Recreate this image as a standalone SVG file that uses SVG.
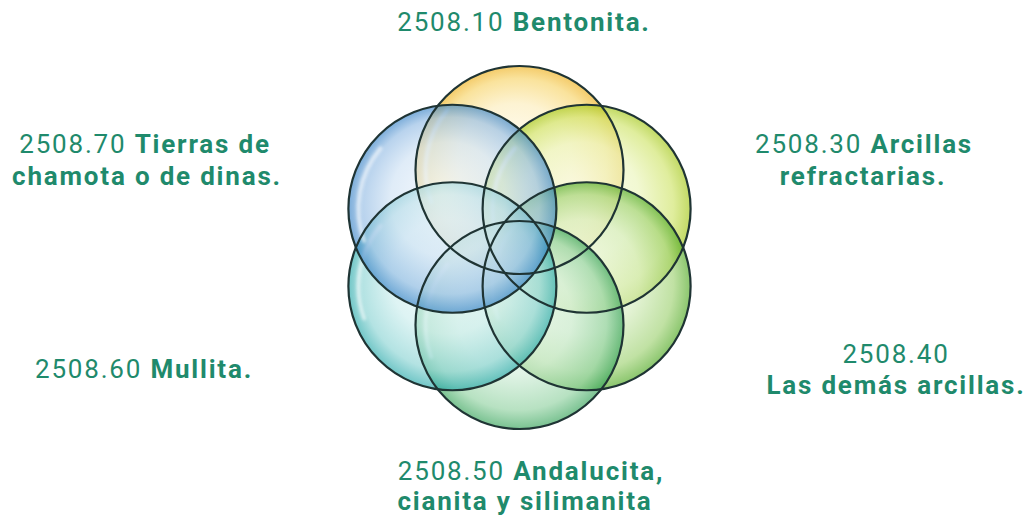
<svg xmlns="http://www.w3.org/2000/svg" xmlns:xlink="http://www.w3.org/1999/xlink" width="1027" height="516" viewBox="0 0 1027 516">
<style>
.lbl{font-family:Roboto,"Liberation Sans",sans-serif;font-size:26px;fill:#1f8a6c;letter-spacing:1.8px;text-anchor:middle}
.b{font-weight:bold}
.fill{fill-opacity:0.66;stroke:none}
.ring{fill:none;stroke:#1f3434;stroke-width:2.2}
.hl{fill:none;stroke:#ffffff;stroke-width:4;stroke-linecap:round;opacity:0.6;filter:url(#blur)}
</style>
<defs>
<filter id="blur" x="-20%" y="-20%" width="140%" height="140%"><feGaussianBlur stdDeviation="1.5"/></filter>
<radialGradient id="gY" cx="0.5" cy="0.5" r="0.5" fx="0.45" fy="0.4"><stop offset="0" stop-color="#fffcee"/><stop offset="0.55" stop-color="#fcedbb"/><stop offset="0.85" stop-color="#f7d469"/><stop offset="1" stop-color="#eeb01c"/></radialGradient>
<radialGradient id="gL" cx="0.5" cy="0.5" r="0.5" fx="0.45" fy="0.4"><stop offset="0" stop-color="#f9fce8"/><stop offset="0.55" stop-color="#ebf5bb"/><stop offset="0.85" stop-color="#cfe46a"/><stop offset="1" stop-color="#a2c615"/></radialGradient>
<radialGradient id="gG" cx="0.5" cy="0.5" r="0.5" fx="0.45" fy="0.4"><stop offset="0" stop-color="#f3faea"/><stop offset="0.55" stop-color="#d6edc0"/><stop offset="0.85" stop-color="#a0d274"/><stop offset="1" stop-color="#4ea822"/></radialGradient>
<radialGradient id="gM" cx="0.5" cy="0.5" r="0.5" fx="0.45" fy="0.4"><stop offset="0" stop-color="#f0faf2"/><stop offset="0.55" stop-color="#d2eeda"/><stop offset="0.85" stop-color="#92d2a2"/><stop offset="1" stop-color="#34a258"/></radialGradient>
<radialGradient id="gT" cx="0.5" cy="0.5" r="0.5" fx="0.45" fy="0.4"><stop offset="0" stop-color="#effafa"/><stop offset="0.55" stop-color="#cdeeee"/><stop offset="0.85" stop-color="#8cd4d4"/><stop offset="1" stop-color="#28a9aa"/></radialGradient>
<radialGradient id="gB" cx="0.5" cy="0.5" r="0.5" fx="0.45" fy="0.4"><stop offset="0" stop-color="#f0f6fc"/><stop offset="0.55" stop-color="#cfe2f4"/><stop offset="0.85" stop-color="#94bce4"/><stop offset="1" stop-color="#3782c6"/></radialGradient>
<path id="hlp" d="M -88.3 32.1 A 94 94 0 0 1 -72 -60.4"/>
</defs>
<rect width="1027" height="516" fill="#ffffff"/>
<g id="circles">
<g id="c-bentonita"><circle class="fill" cx="519.5" cy="170" r="104" fill="url(#gY)"/><use xlink:href="#hlp" class="hl" transform="translate(519.5 170)"/></g>
<g id="c-arcillas-refractarias"><circle class="fill" cx="586.6" cy="208.75" r="104" fill="url(#gL)"/><use xlink:href="#hlp" class="hl" transform="translate(586.6 208.75)"/></g>
<g id="c-demas-arcillas"><circle class="fill" cx="586.6" cy="286.25" r="104" fill="url(#gG)"/><use xlink:href="#hlp" class="hl" transform="translate(586.6 286.25)"/></g>
<g id="c-andalucita"><circle class="fill" cx="519.5" cy="325" r="104" fill="url(#gM)"/><use xlink:href="#hlp" class="hl" transform="translate(519.5 325)"/></g>
<g id="c-mullita"><circle class="fill" cx="452.4" cy="286.25" r="104" fill="url(#gT)"/><use xlink:href="#hlp" class="hl" transform="translate(452.4 286.25)"/></g>
<g id="c-tierras"><circle class="fill" cx="452.4" cy="208.75" r="104" fill="url(#gB)"/><use xlink:href="#hlp" class="hl" transform="translate(452.4 208.75)"/></g>
</g>
<g id="outlines">
<circle class="ring" cx="519.5" cy="170" r="104"/>
<circle class="ring" cx="586.6" cy="208.75" r="104"/>
<circle class="ring" cx="586.6" cy="286.25" r="104"/>
<circle class="ring" cx="519.5" cy="325" r="104"/>
<circle class="ring" cx="452.4" cy="286.25" r="104"/>
<circle class="ring" cx="452.4" cy="208.75" r="104"/>
</g>
<g id="connectors"/>
<g id="label-2508-10"><text class="lbl" x="524" y="31">2508.10 <tspan class="b">Bentonita.</tspan></text></g>
<g id="label-2508-70"><text class="lbl" x="145" y="153">2508.70 <tspan class="b">Tierras de</tspan></text><text class="lbl b" x="147" y="185">chamota o de dinas.</text></g>
<g id="label-2508-30"><text class="lbl" x="864" y="153">2508.30 <tspan class="b">Arcillas</tspan></text><text class="lbl b" x="863" y="185">refractarias.</text></g>
<g id="label-2508-60"><text class="lbl" x="144" y="378">2508.60 <tspan class="b">Mullita.</tspan></text></g>
<g id="label-2508-40"><text class="lbl" x="896" y="363">2508.40</text><text class="lbl b" x="896" y="394">Las demás arcillas.</text></g>
<g id="label-2508-50"><text class="lbl" x="531" y="480">2508.50 <tspan class="b">Andalucita,</tspan></text><text class="lbl b" x="525" y="510">cianita y silimanita</text></g>
</svg>
